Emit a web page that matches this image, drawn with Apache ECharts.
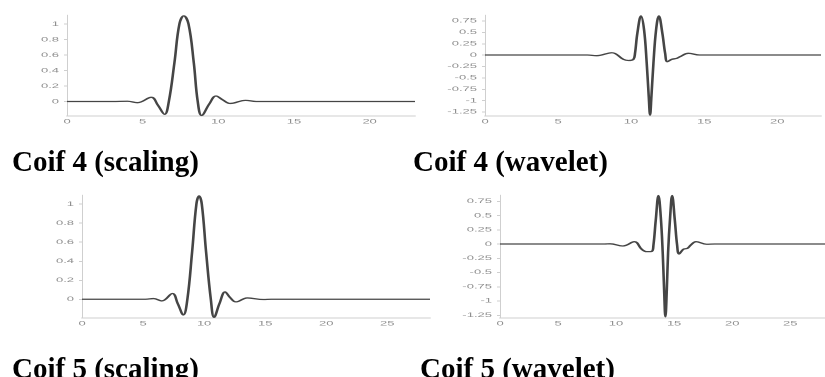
<!DOCTYPE html>
<html><head><meta charset="utf-8">
<script src="https://cdn.jsdelivr.net/npm/echarts@6/dist/echarts.min.js"></script>
<style>
html,body{margin:0;padding:0;background:#fff;overflow:hidden;}
#wrap{position:relative;width:825px;height:377px;}
#titles{position:absolute;left:0;top:0;width:825px;height:377px;}
.panel{position:absolute;transform:scaleY(0.5);transform-origin:0 0;}
</style></head><body>
<div id="wrap">
<div id="titles"></div>
<div class="panel" id="p1" style="left:0;top:0;width:420px;height:270px"></div>
<div class="panel" id="p2" style="left:420px;top:0;width:405px;height:270px"></div>
<div class="panel" id="p3" style="left:0;top:185px;width:440px;height:290px"></div>
<div class="panel" id="p4" style="left:440px;top:185px;width:385px;height:290px"></div>
</div>
<script>
// ---- data ----
const titles = ['Coif 4 (scaling)', 'Coif 4 (wavelet)', 'Coif 5 (scaling)', 'Coif 5 (wavelet)'];

const coif4ScalingX = [0, 3, 4, 4.65, 5.57, 6.0, 6.45, 6.73, 7.1, 7.43, 7.72, 8.03, 8.38, 8.64, 8.9, 9.41, 9.85, 10.3, 10.8, 11.8, 12.5, 23];
const coif4ScalingY = [0, 0, 0.003, -0.015, 0.054, -0.045, -0.165, 0, 0.5, 1.0, 1.105, 1.0, 0.5, 0, -0.18, -0.03, 0.071, 0.02, -0.025, 0.015, 0, 0];

const coif4WaveletX = [0, 7, 7.65, 8.68, 9.47, 9.82, 10.16, 10.27, 10.43, 10.68, 10.89, 11.07, 11.21, 11.3, 11.39, 11.53, 11.71, 11.9, 12.14, 12.33, 12.49, 12.79, 13.13, 13.36, 13.93, 14.7, 23];
const coif4WaveletY = [0, 0, -0.015, 0.05, -0.095, -0.12, -0.095, 0.04, 0.48, 0.86, 0.55, -0.18, -0.92, -1.32, -0.92, -0.18, 0.55, 0.86, 0.48, 0.04, -0.147, -0.095, -0.073, -0.035, 0.037, 0, 0];

const coif5ScalingX = [0, 5.2, 5.85, 6.53, 7.4, 7.84, 8.3, 8.63, 9.02, 9.37, 9.59, 9.81, 10.16, 10.55, 10.82, 11.26, 11.72, 12.13, 12.62, 13.55, 14.86, 15.5, 28.5];
const coif5ScalingY = [0, 0, 0.007, -0.018, 0.06, -0.045, -0.165, 0, 0.5, 1.0, 1.085, 1.0, 0.5, 0, -0.19, -0.045, 0.077, 0.018, -0.028, 0.014, -0.003, 0, 0];

const coif5WaveletX = [0, 9, 9.48, 10.58, 11.58, 12.21, 12.64, 13.08, 13.22, 13.42, 13.65, 13.85, 14.02, 14.14, 14.25, 14.37, 14.48, 14.66, 14.83, 15.06, 15.26, 15.43, 15.8, 16.15, 16.44, 16.9, 17.8, 18.5, 28];
const coif5WaveletY = [0, 0, 0.003, -0.035, 0.04, -0.093, -0.135, -0.13, -0.02, 0.42, 0.85, 0.48, -0.16, -0.81, -1.28, -0.81, -0.16, 0.48, 0.85, 0.42, -0.02, -0.175, -0.093, -0.076, -0.018, 0.04, -0.005, 0, 0];

// axis extents and tick steps
const xMaxes = [23, 23, 28.5, 28];
const xTickStep = 5;
const yMins = [-0.187, -1.34, -0.197, -1.30];
const yMaxes = [1.116, 0.879, 1.095, 0.86];
const yTickSteps = [0.2, 0.25, 0.2, 0.25];

// ---- rendering ----
const seriesX = [coif4ScalingX, coif4WaveletX, coif5ScalingX, coif5WaveletX];
const seriesY = [coif4ScalingY, coif4WaveletY, coif5ScalingY, coif5WaveletY];
const grids = [
  {left: 67, top: 30, width: 348, height: 202},
  {left: 65, top: 30, width: 336, height: 202},
  {left: 82, top: 20, width: 348, height: 246},
  {left: 60, top: 20, width: 325, height: 246}
];
const labelStyle = {color: '#8e8e8e', fontSize: 13, fontFamily: 'Liberation Sans'};

['p1', 'p2', 'p3', 'p4'].forEach(function (id, i) {
  const chart = echarts.init(document.getElementById(id), null, {renderer: 'canvas'});
  const pts = seriesX[i].map(function (x, k) { return [x, seriesY[i][k]]; });
  chart.setOption({
    animation: false,
    grid: Object.assign({outerBoundsMode: 'none', containLabel: false}, grids[i]),
    xAxis: {
      type: 'value', min: 0, max: xMaxes[i],
      minInterval: xTickStep, maxInterval: xTickStep,
      axisLine: {show: true, onZero: false, lineStyle: {color: '#cfcfcf', width: 2}},
      axisTick: {show: false},
      splitLine: {show: false},
      axisLabel: Object.assign({margin: 5, showMinLabel: true, showMaxLabel: false}, labelStyle)
    },
    yAxis: {
      type: 'value', min: yMins[i], max: yMaxes[i],
      minInterval: yTickSteps[i], maxInterval: yTickSteps[i],
      axisLine: {show: true, lineStyle: {color: '#cfcfcf', width: 1}},
      axisTick: {show: true, length: 3, lineStyle: {color: '#cfcfcf', width: 2}},
      splitLine: {show: false},
      axisLabel: Object.assign({margin: 8, showMinLabel: false, showMaxLabel: false}, labelStyle)
    },
    series: [{
      type: 'line', data: pts, smooth: 0.4, showSymbol: false, symbol: 'none', clip: false,
      lineStyle: {color: '#454545', width: 2.6}
    }]
  });
});

const tChart = echarts.init(document.getElementById('titles'));
const titleLeft = [12, 413, 12, 420];
const titleTop = [149, 149, 356, 356];
tChart.setOption({
  animation: false,
  title: titles.map(function (t, i) {
    return {
      text: t, left: titleLeft[i], top: titleTop[i], padding: 0,
      textStyle: {fontFamily: 'Liberation Serif', fontWeight: 'bold', fontSize: 29, color: '#000'}
    };
  })
});
</script>
</body></html>
